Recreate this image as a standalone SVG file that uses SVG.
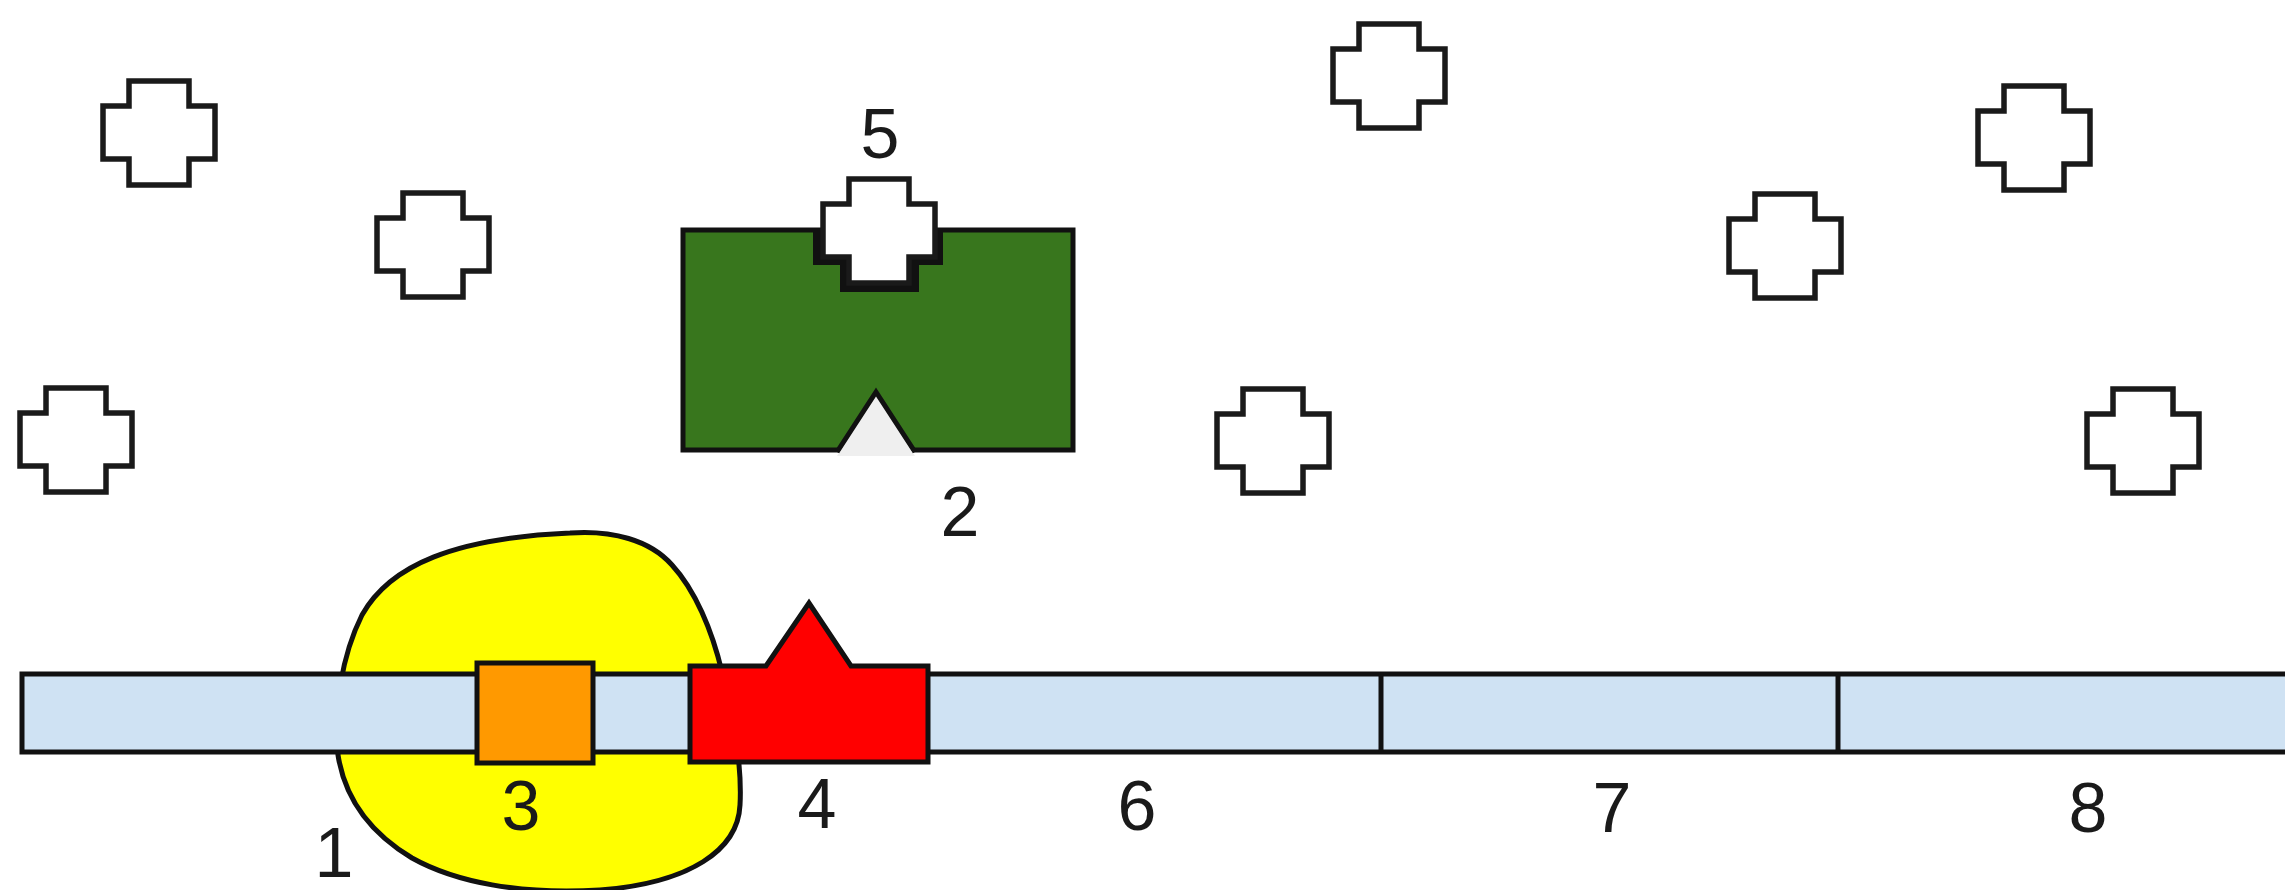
<svg xmlns="http://www.w3.org/2000/svg" xmlns:xlink="http://www.w3.org/1999/xlink" width="2285" height="890" viewBox="0 0 2285 890">
  <style>
    .cross { fill: #ffffff; stroke: #1a1a1a; stroke-width: 5.5; stroke-linejoin: miter; }
    .ol { stroke: #111111; stroke-width: 5; stroke-linejoin: miter; }
    .lbl { font-family: "Liberation Sans", Arial, sans-serif; font-size: 70px; fill: #1a1a1a; text-anchor: middle; }
  </style>
  <defs>
    <path id="crossShape" d="M26,0 H86 V25 H112 V78 H86 V104 H26 V78 H0 V25 H26 Z"/>
    <clipPath id="greenClip"><rect x="683" y="230" width="390" height="220"/></clipPath>
  </defs>
  <rect width="2285" height="890" fill="#ffffff"/>

  <g id="blob1">
    <path class="ol" fill="#ffff00" d="M570,533 C612,530 650,540 672,565 C695,590 712,630 722,672 C735,720 742,770 740,805 C738,850 690,883 600,890 C520,895 455,882 412,858 C372,834 345,800 338,755 C333,710 342,655 362,615 C390,565 455,538 570,533 Z"/>
  </g>

  <g id="bar">
    <rect class="ol" fill="#cfe2f3" x="22" y="674" width="2290" height="78"/>
    <line class="ol" x1="1381" y1="674" x2="1381" y2="752"/>
    <line class="ol" x1="1838" y1="674" x2="1838" y2="752"/>
  </g>

  <g id="node3">
    <rect class="ol" fill="#ff9900" x="477" y="663" width="116" height="100"/>
  </g>

  <g id="node4">
    <path class="ol" fill="#ff0000" d="M690,666 H766 L809,603 L851,666 H928 V762 H690 Z"/>
  </g>

  <g id="node2">
    <rect class="ol" fill="#38761d" x="683" y="230" width="390" height="220"/>
    <path fill="#111111" clip-path="url(#greenClip)" d="M840,170 H919 V200 H943 V265 H919 V292 H840 V265 H813 V200 H840 Z"/>
    <polygon fill="#efefef" points="837,456 876,392 915,456"/>
    <polyline fill="none" class="ol" points="837,452 876,392 915,452"/>
  </g>

  <g id="crosses">
    <use class="cross" href="#crossShape" xlink:href="#crossShape" x="103" y="81"/>
    <use class="cross" href="#crossShape" xlink:href="#crossShape" x="377" y="193"/>
    <use class="cross" href="#crossShape" xlink:href="#crossShape" x="20" y="388"/>
    <use class="cross" href="#crossShape" xlink:href="#crossShape" x="1333" y="24"/>
    <use class="cross" href="#crossShape" xlink:href="#crossShape" x="1217" y="389"/>
    <use class="cross" href="#crossShape" xlink:href="#crossShape" x="1729" y="194"/>
    <use class="cross" href="#crossShape" xlink:href="#crossShape" x="1978" y="86"/>
    <use class="cross" href="#crossShape" xlink:href="#crossShape" x="2087" y="389"/>
  </g>
  <g id="node5">
    <use class="cross" href="#crossShape" xlink:href="#crossShape" x="823" y="179"/>
  </g>

  <g id="connectors"></g>

  <g id="labels">
    <text class="lbl" x="880" y="158">5</text>
    <text class="lbl" x="960" y="536">2</text>
    <text class="lbl" x="334" y="877">1</text>
    <text class="lbl" x="521" y="830">3</text>
    <text class="lbl" x="817" y="828">4</text>
    <text class="lbl" x="1137" y="830">6</text>
    <text class="lbl" x="1612" y="832">7</text>
    <text class="lbl" x="2088" y="832">8</text>
  </g>
</svg>
